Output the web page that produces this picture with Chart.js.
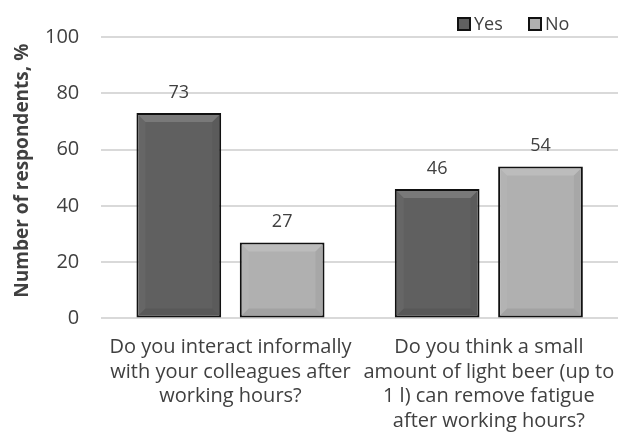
<!DOCTYPE html>
<html>
<head>
<meta charset="utf-8">
<script src="https://cdn.jsdelivr.net/npm/chart.js@4"></script>
<style>
  html, body { margin: 0; padding: 0; background: #fff; }
  #wrap { width: 638px; height: 445px; }
</style>
</head>
<body>
<div id="wrap"><canvas id="chart"></canvas></div>
<script>
const categories = [
  ["Do you interact informally", "with your colleagues after", "working hours?"],
  ["Do you think a small", "amount of light beer (up to", "1 l) can remove fatigue", "after working hours?"],
];
const yesValues = [73, 46];
const noValues = [27, 54];
const yTicks = [0, 20, 40, 60, 80, 100];
const yTitle = "Number of respondents, %";

const FONT = "'Open Sans', sans-serif";
const TEXT = "#404040";

// value labels above each bar
const valueLabels = {
  id: "valueLabels",
  afterDatasetsDraw(chart) {
    const ctx = chart.ctx;
    ctx.save();
    ctx.font = "18px " + FONT;
    ctx.fillStyle = TEXT;
    ctx.textAlign = "center";
    ctx.textBaseline = "alphabetic";
    chart.data.datasets.forEach((ds, i) => {
      chart.getDatasetMeta(i).data.forEach((bar, j) => {
        ctx.fillText(ds.data[j], bar.x, bar.y - 15);
      });
    });
    ctx.restore();
  },
};

// bevel shading on the bars
const bevel = {
  id: "bevel",
  afterDatasetsDraw(chart) {
    const ctx = chart.ctx;
    const b = 7;
    ctx.save();
    chart.data.datasets.forEach((ds, i) => {
      chart.getDatasetMeta(i).data.forEach((bar) => {
        const l = bar.x - bar.width / 2 + 2, r = bar.x + bar.width / 2 - 2;
        const t = bar.y + 2, btm = bar.base - 2;
        ctx.fillStyle = "rgba(255,255,255,0.16)";
        ctx.beginPath();
        ctx.moveTo(l, t); ctx.lineTo(r, t); ctx.lineTo(r - b, t + b); ctx.lineTo(l + b, t + b);
        ctx.closePath(); ctx.fill();
        ctx.fillStyle = "rgba(255,255,255,0.04)";
        ctx.beginPath();
        ctx.moveTo(l, t); ctx.lineTo(l + b, t + b); ctx.lineTo(l + b, btm - b); ctx.lineTo(l, btm);
        ctx.closePath(); ctx.fill();
        ctx.fillStyle = "rgba(0,0,0,0.05)";
        ctx.beginPath();
        ctx.moveTo(r, t); ctx.lineTo(r - b, t + b); ctx.lineTo(r - b, btm - b); ctx.lineTo(r, btm);
        ctx.closePath(); ctx.fill();
        ctx.fillStyle = "rgba(0,0,0,0.08)";
        ctx.beginPath();
        ctx.moveTo(l, btm); ctx.lineTo(r, btm); ctx.lineTo(r - b, btm - b); ctx.lineTo(l + b, btm - b);
        ctx.closePath(); ctx.fill();
      });
    });
    ctx.restore();
  },
};

// legend in the top right corner, y axis title on the left
const decorations = {
  id: "decorations",
  afterDraw(chart) {
    const ctx = chart.ctx;
    const area = chart.chartArea;
    ctx.save();
    ctx.font = "18px " + FONT;
    ctx.textBaseline = "middle";
    let x = 457;
    const y = 24;
    chart.data.datasets.forEach((ds) => {
      ctx.fillStyle = ds.backgroundColor;
      ctx.fillRect(x, y - 7, 14, 14);
      ctx.strokeStyle = "#111";
      ctx.lineWidth = 2;
      ctx.strokeRect(x + 1, y - 6, 12, 12);
      ctx.fillStyle = TEXT;
      ctx.fillText(ds.label, x + 17, y + 1);
      x += 71;
    });

    ctx.translate(23, (area.top + area.bottom) / 2 - 7);
    ctx.rotate(-Math.PI / 2);
    ctx.font = "bold 19px " + FONT;
    ctx.textAlign = "center";
    ctx.fillStyle = TEXT;
    ctx.fillText(yTitle, 0, 0);
    ctx.restore();
  },
};

new Chart(document.getElementById("chart"), {
  type: "bar",
  data: {
    labels: categories,
    datasets: [
      {
        label: "Yes",
        data: yesValues,
        backgroundColor: "#606060",
        borderColor: "#111",
        borderWidth: 2,
        borderSkipped: false,
      },
      {
        label: "No",
        data: noValues,
        backgroundColor: "#b0b0b0",
        borderColor: "#111",
        borderWidth: 2,
        borderSkipped: false,
      },
    ],
  },
  options: {
    responsive: true,
    maintainAspectRatio: false,
    animation: false,
    categoryPercentage: 0.8,
    barPercentage: 0.82,
    layout: { padding: { left: 23, right: 20, top: 37, bottom: 3 } },
    plugins: {
      legend: { display: false },
      tooltip: { enabled: false },
    },
    scales: {
      x: {
        grid: { display: false },
        border: { display: false },
        ticks: {
          color: TEXT,
          font: { family: FONT, size: 20, lineHeight: 1.22 },
          maxRotation: 0,
          autoSkip: false,
          padding: 9,
        },
      },
      y: {
        min: 0,
        max: 100,
        afterBuildTicks: (axis) => {
          axis.ticks = yTicks.map((v) => ({ value: v }));
        },
        grid: { color: "#d9d9d9", lineWidth: 2, drawTicks: false },
        border: { display: false },
        ticks: {
          color: TEXT,
          font: { family: FONT, size: 20 },
          padding: 22,
        },
      },
    },
  },
  plugins: [valueLabels, bevel, decorations],
});
</script>
</body>
</html>
